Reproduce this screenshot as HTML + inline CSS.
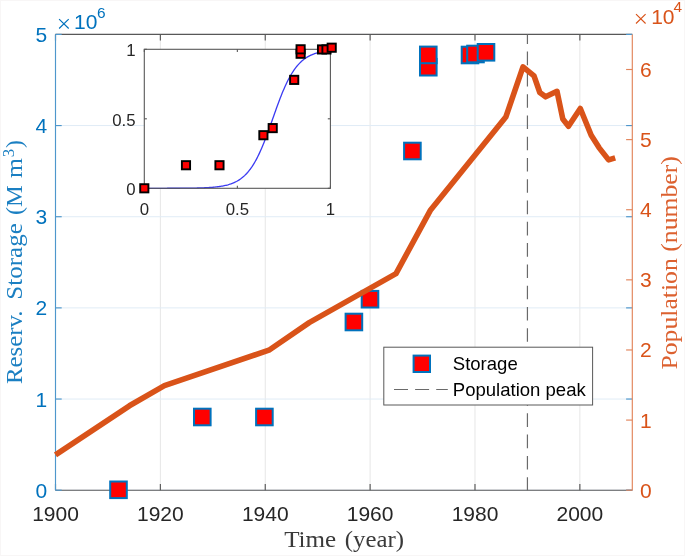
<!DOCTYPE html>
<html><head><meta charset="utf-8"><style>
html,body{margin:0;padding:0;background:#fff;}
body{width:685px;height:556px;overflow:hidden;font-family:"Liberation Sans",sans-serif;}
svg{display:block;will-change:transform;}
</style></head><body>
<svg width="685" height="556" viewBox="0 0 685 556">
<rect x="0" y="0" width="685" height="556" fill="#fff"/>
<line x1="55.50" y1="34.4" x2="55.50" y2="490.2" stroke="#E6E6E6" stroke-width="1"/>
<line x1="160.37" y1="34.4" x2="160.37" y2="490.2" stroke="#E6E6E6" stroke-width="1"/>
<line x1="265.25" y1="34.4" x2="265.25" y2="490.2" stroke="#E6E6E6" stroke-width="1"/>
<line x1="370.12" y1="34.4" x2="370.12" y2="490.2" stroke="#E6E6E6" stroke-width="1"/>
<line x1="474.99" y1="34.4" x2="474.99" y2="490.2" stroke="#E6E6E6" stroke-width="1"/>
<line x1="579.86" y1="34.4" x2="579.86" y2="490.2" stroke="#E6E6E6" stroke-width="1"/>
<line x1="55.5" y1="490.20" x2="632.3" y2="490.20" stroke="#E0ECF6" stroke-width="1"/>
<line x1="55.5" y1="399.04" x2="632.3" y2="399.04" stroke="#E0ECF6" stroke-width="1"/>
<line x1="55.5" y1="307.88" x2="632.3" y2="307.88" stroke="#E0ECF6" stroke-width="1"/>
<line x1="55.5" y1="216.72" x2="632.3" y2="216.72" stroke="#E0ECF6" stroke-width="1"/>
<line x1="55.5" y1="125.56" x2="632.3" y2="125.56" stroke="#E0ECF6" stroke-width="1"/>
<line x1="55.5" y1="34.40" x2="632.3" y2="34.40" stroke="#E0ECF6" stroke-width="1"/>
<line x1="55.5" y1="34.4" x2="632.3" y2="34.4" stroke="#585858" stroke-width="1.15"/>
<line x1="55.5" y1="490.2" x2="632.3" y2="490.2" stroke="#585858" stroke-width="1.15"/>
<line x1="55.50" y1="490.2" x2="55.50" y2="484.0" stroke="#585858" stroke-width="1.15"/>
<line x1="55.50" y1="34.4" x2="55.50" y2="40.6" stroke="#585858" stroke-width="1.15"/>
<line x1="160.37" y1="490.2" x2="160.37" y2="484.0" stroke="#585858" stroke-width="1.15"/>
<line x1="160.37" y1="34.4" x2="160.37" y2="40.6" stroke="#585858" stroke-width="1.15"/>
<line x1="265.25" y1="490.2" x2="265.25" y2="484.0" stroke="#585858" stroke-width="1.15"/>
<line x1="265.25" y1="34.4" x2="265.25" y2="40.6" stroke="#585858" stroke-width="1.15"/>
<line x1="370.12" y1="490.2" x2="370.12" y2="484.0" stroke="#585858" stroke-width="1.15"/>
<line x1="370.12" y1="34.4" x2="370.12" y2="40.6" stroke="#585858" stroke-width="1.15"/>
<line x1="474.99" y1="490.2" x2="474.99" y2="484.0" stroke="#585858" stroke-width="1.15"/>
<line x1="474.99" y1="34.4" x2="474.99" y2="40.6" stroke="#585858" stroke-width="1.15"/>
<line x1="579.86" y1="490.2" x2="579.86" y2="484.0" stroke="#585858" stroke-width="1.15"/>
<line x1="579.86" y1="34.4" x2="579.86" y2="40.6" stroke="#585858" stroke-width="1.15"/>
<line x1="55.5" y1="490.20" x2="61.7" y2="490.20" stroke="#4E97CC" stroke-width="1.15"/>
<line x1="632.3" y1="490.20" x2="626.0999999999999" y2="490.20" stroke="#4E97CC" stroke-width="1.15"/>
<line x1="55.5" y1="399.04" x2="61.7" y2="399.04" stroke="#4E97CC" stroke-width="1.15"/>
<line x1="632.3" y1="399.04" x2="626.0999999999999" y2="399.04" stroke="#4E97CC" stroke-width="1.15"/>
<line x1="55.5" y1="307.88" x2="61.7" y2="307.88" stroke="#4E97CC" stroke-width="1.15"/>
<line x1="632.3" y1="307.88" x2="626.0999999999999" y2="307.88" stroke="#4E97CC" stroke-width="1.15"/>
<line x1="55.5" y1="216.72" x2="61.7" y2="216.72" stroke="#4E97CC" stroke-width="1.15"/>
<line x1="632.3" y1="216.72" x2="626.0999999999999" y2="216.72" stroke="#4E97CC" stroke-width="1.15"/>
<line x1="55.5" y1="125.56" x2="61.7" y2="125.56" stroke="#4E97CC" stroke-width="1.15"/>
<line x1="632.3" y1="125.56" x2="626.0999999999999" y2="125.56" stroke="#4E97CC" stroke-width="1.15"/>
<line x1="55.5" y1="34.40" x2="61.7" y2="34.40" stroke="#4E97CC" stroke-width="1.15"/>
<line x1="632.3" y1="34.40" x2="626.0999999999999" y2="34.40" stroke="#4E97CC" stroke-width="1.15"/>
<line x1="632.3" y1="490.20" x2="626.0999999999999" y2="490.20" stroke="#E2845A" stroke-width="1.15"/>
<line x1="632.3" y1="420.08" x2="626.0999999999999" y2="420.08" stroke="#E2845A" stroke-width="1.15"/>
<line x1="632.3" y1="349.97" x2="626.0999999999999" y2="349.97" stroke="#E2845A" stroke-width="1.15"/>
<line x1="632.3" y1="279.85" x2="626.0999999999999" y2="279.85" stroke="#E2845A" stroke-width="1.15"/>
<line x1="632.3" y1="209.73" x2="626.0999999999999" y2="209.73" stroke="#E2845A" stroke-width="1.15"/>
<line x1="632.3" y1="139.62" x2="626.0999999999999" y2="139.62" stroke="#E2845A" stroke-width="1.15"/>
<line x1="632.3" y1="69.50" x2="626.0999999999999" y2="69.50" stroke="#E2845A" stroke-width="1.15"/>
<line x1="55.5" y1="34.4" x2="55.5" y2="490.2" stroke="#4E97CC" stroke-width="1.15"/>
<line x1="632.3" y1="34.4" x2="632.3" y2="490.2" stroke="#E2845A" stroke-width="1.15"/>
<line x1="527.43" y1="34.4" x2="527.43" y2="490.2" stroke="#6a6a6a" stroke-width="1.2" stroke-dasharray="13.6 7.68" stroke-dashoffset="4.1"/>
<rect x="110.20" y="481.50" width="16.6" height="16.6" fill="#f00" stroke="#0072BD" stroke-width="2"/>
<rect x="194.00" y="408.70" width="16.6" height="16.6" fill="#f00" stroke="#0072BD" stroke-width="2"/>
<rect x="256.10" y="408.70" width="16.6" height="16.6" fill="#f00" stroke="#0072BD" stroke-width="2"/>
<rect x="345.60" y="313.70" width="16.6" height="16.6" fill="#f00" stroke="#0072BD" stroke-width="2"/>
<rect x="361.70" y="290.90" width="16.6" height="16.6" fill="#f00" stroke="#0072BD" stroke-width="2"/>
<rect x="404.10" y="142.70" width="16.6" height="16.6" fill="#f00" stroke="#0072BD" stroke-width="2"/>
<rect x="420.00" y="58.90" width="16.6" height="16.6" fill="#f00" stroke="#0072BD" stroke-width="2"/>
<rect x="420.00" y="46.60" width="16.6" height="16.6" fill="#f00" stroke="#0072BD" stroke-width="2"/>
<rect x="461.70" y="46.70" width="16.6" height="16.6" fill="#f00" stroke="#0072BD" stroke-width="2"/>
<rect x="467.20" y="45.70" width="16.6" height="16.6" fill="#f00" stroke="#0072BD" stroke-width="2"/>
<rect x="477.70" y="44.00" width="16.6" height="16.6" fill="#f00" stroke="#0072BD" stroke-width="2"/>
<polyline points="55.5,454.8 129.4,405.8 164.4,385.6 268.9,350.2 309.2,322.6 396.0,273.6 430.6,209.9 505.8,117.1 523.0,66.8 534.0,75.8 539.8,92.5 545.6,96.8 557.0,91.3 562.8,119.0 568.5,126.2 580.3,108.5 591.2,135.3 599.0,147.6 608.6,159.9 615.2,157.9" fill="none" stroke="#D95319" stroke-width="5.6" stroke-linejoin="round" stroke-linecap="butt"/>
<text x="55.50" y="521.2" font-family="Liberation Sans, sans-serif" font-size="21.0" fill="#262626" text-anchor="middle">1900</text>
<text x="160.37" y="521.2" font-family="Liberation Sans, sans-serif" font-size="21.0" fill="#262626" text-anchor="middle">1920</text>
<text x="265.25" y="521.2" font-family="Liberation Sans, sans-serif" font-size="21.0" fill="#262626" text-anchor="middle">1940</text>
<text x="370.12" y="521.2" font-family="Liberation Sans, sans-serif" font-size="21.0" fill="#262626" text-anchor="middle">1960</text>
<text x="474.99" y="521.2" font-family="Liberation Sans, sans-serif" font-size="21.0" fill="#262626" text-anchor="middle">1980</text>
<text x="579.86" y="521.2" font-family="Liberation Sans, sans-serif" font-size="21.0" fill="#262626" text-anchor="middle">2000</text>
<text x="47.3" y="497.70" font-family="Liberation Sans, sans-serif" font-size="21.0" fill="#0072BD" text-anchor="end">0</text>
<text x="47.3" y="406.54" font-family="Liberation Sans, sans-serif" font-size="21.0" fill="#0072BD" text-anchor="end">1</text>
<text x="47.3" y="315.38" font-family="Liberation Sans, sans-serif" font-size="21.0" fill="#0072BD" text-anchor="end">2</text>
<text x="47.3" y="224.22" font-family="Liberation Sans, sans-serif" font-size="21.0" fill="#0072BD" text-anchor="end">3</text>
<text x="47.3" y="133.06" font-family="Liberation Sans, sans-serif" font-size="21.0" fill="#0072BD" text-anchor="end">4</text>
<text x="47.3" y="41.90" font-family="Liberation Sans, sans-serif" font-size="21.0" fill="#0072BD" text-anchor="end">5</text>
<text x="640.0" y="497.70" font-family="Liberation Sans, sans-serif" font-size="21.0" fill="#D95319">0</text>
<text x="640.0" y="427.58" font-family="Liberation Sans, sans-serif" font-size="21.0" fill="#D95319">1</text>
<text x="640.0" y="357.47" font-family="Liberation Sans, sans-serif" font-size="21.0" fill="#D95319">2</text>
<text x="640.0" y="287.35" font-family="Liberation Sans, sans-serif" font-size="21.0" fill="#D95319">3</text>
<text x="640.0" y="217.23" font-family="Liberation Sans, sans-serif" font-size="21.0" fill="#D95319">4</text>
<text x="640.0" y="147.12" font-family="Liberation Sans, sans-serif" font-size="21.0" fill="#D95319">5</text>
<text x="640.0" y="77.00" font-family="Liberation Sans, sans-serif" font-size="21.0" fill="#D95319">6</text>
<path d="M59.1,19.1 L68.7,28.5 M68.7,19.1 L59.1,28.5" stroke="#0072BD" stroke-width="1.15" fill="none"/>
<text x="74.0" y="28.6" font-family="Liberation Sans, sans-serif" font-size="21.0" fill="#0072BD">10</text>
<text x="96.9" y="17.9" font-family="Liberation Sans, sans-serif" font-size="15.4" fill="#0072BD">6</text>
<path d="M636.0,14.1 L645.6,23.5 M645.6,14.1 L636.0,23.5" stroke="#D95319" stroke-width="1.15" fill="none"/>
<text x="651.2" y="23.6" font-family="Liberation Sans, sans-serif" font-size="21.0" fill="#D95319">10</text>
<text x="673.4" y="12.4" font-family="Liberation Sans, sans-serif" font-size="15.4" fill="#D95319">4</text>
<text y="547.4" font-family="Liberation Serif, serif" font-size="23" fill="#3a3a3a"><tspan x="284.2" textLength="52" lengthAdjust="spacingAndGlyphs">Time</tspan><tspan x="344.8" textLength="59.2" lengthAdjust="spacingAndGlyphs">(year)</tspan></text>
<text transform="translate(21.9,383.5) rotate(-90)" x="0" y="0" font-family="Liberation Serif, serif" font-size="23.5" fill="#1a7fc2"><tspan x="-0.6" textLength="73.5" lengthAdjust="spacingAndGlyphs">Reserv.</tspan><tspan x="83.8" textLength="76.5" lengthAdjust="spacingAndGlyphs">Storage</tspan><tspan x="168.4" textLength="30" lengthAdjust="spacingAndGlyphs">(M</tspan><tspan x="205.6" textLength="20" lengthAdjust="spacingAndGlyphs">m</tspan><tspan font-size="17" dx="0.6" dy="-7.6">3</tspan><tspan dx="0.8" dy="7.6">)</tspan></text>
<text transform="translate(677.2,369.6) rotate(-90)" x="0" y="0" font-family="Liberation Serif, serif" font-size="23.5" fill="#dc6130" textLength="213.5" lengthAdjust="spacingAndGlyphs">Population (number)</text>
<rect x="383.8" y="347.2" width="208.8" height="57.8" fill="#fff" stroke="#585858" stroke-width="1"/>
<rect x="413.6" y="355.6" width="16.4" height="16.4" fill="#f00" stroke="#0072BD" stroke-width="2"/>
<line x1="394" y1="389.5" x2="447.8" y2="389.5" stroke="#6a6a6a" stroke-width="1.2" stroke-dasharray="14 7.1"/>
<text x="452.8" y="370.4" font-family="Liberation Sans, sans-serif" font-size="18.55" fill="#000">Storage</text>
<text x="452.8" y="396.0" font-family="Liberation Sans, sans-serif" font-size="18.55" fill="#000">Population peak</text>
<rect x="144.3" y="49.3" width="186.10" height="139.00" fill="#fff" stroke="none"/>
<polyline points="144.30,188.30 145.23,188.30 146.16,188.30 147.09,188.30 148.02,188.29 148.95,188.29 149.88,188.29 150.81,188.29 151.74,188.29 152.67,188.29 153.61,188.29 154.54,188.29 155.47,188.29 156.40,188.29 157.33,188.29 158.26,188.29 159.19,188.29 160.12,188.29 161.05,188.28 161.98,188.28 162.91,188.28 163.84,188.28 164.77,188.28 165.70,188.28 166.63,188.28 167.56,188.27 168.49,188.27 169.42,188.27 170.35,188.27 171.28,188.26 172.22,188.26 173.15,188.26 174.08,188.26 175.01,188.25 175.94,188.25 176.87,188.24 177.80,188.24 178.73,188.24 179.66,188.23 180.59,188.22 181.52,188.22 182.45,188.21 183.38,188.21 184.31,188.20 185.24,188.19 186.17,188.18 187.10,188.17 188.03,188.16 188.96,188.15 189.89,188.14 190.82,188.13 191.76,188.11 192.69,188.10 193.62,188.08 194.55,188.07 195.48,188.05 196.41,188.03 197.34,188.01 198.27,187.98 199.20,187.96 200.13,187.93 201.06,187.90 201.99,187.87 202.92,187.84 203.85,187.80 204.78,187.76 205.71,187.72 206.64,187.67 207.57,187.62 208.50,187.57 209.44,187.51 210.37,187.45 211.30,187.38 212.23,187.31 213.16,187.24 214.09,187.15 215.02,187.06 215.95,186.97 216.88,186.86 217.81,186.75 218.74,186.63 219.67,186.50 220.60,186.36 221.53,186.21 222.46,186.04 223.39,185.87 224.32,185.68 225.25,185.48 226.18,185.26 227.11,185.02 228.05,184.77 228.98,184.50 229.91,184.21 230.84,183.90 231.77,183.56 232.70,183.20 233.63,182.81 234.56,182.40 235.49,181.95 236.42,181.48 237.35,180.97 238.28,180.42 239.21,179.84 240.14,179.21 241.07,178.55 242.00,177.83 242.93,177.07 243.86,176.26 244.79,175.40 245.72,174.48 246.66,173.51 247.59,172.47 248.52,171.38 249.45,170.21 250.38,168.99 251.31,167.69 252.24,166.32 253.17,164.87 254.10,163.35 255.03,161.76 255.96,160.09 256.89,158.34 257.82,156.52 258.75,154.62 259.68,152.64 260.61,150.59 261.54,148.46 262.47,146.27 263.40,144.01 264.33,141.68 265.26,139.30 266.20,136.86 267.13,134.38 268.06,131.85 268.99,129.28 269.92,126.69 270.85,124.07 271.78,121.44 272.71,118.80 273.64,116.16 274.57,113.53 275.50,110.91 276.43,108.32 277.36,105.75 278.29,103.22 279.22,100.74 280.15,98.30 281.08,95.92 282.01,93.59 282.94,91.33 283.88,89.14 284.81,87.01 285.74,84.96 286.67,82.98 287.60,81.08 288.53,79.26 289.46,77.51 290.39,75.84 291.32,74.25 292.25,72.73 293.18,71.28 294.11,69.91 295.04,68.61 295.97,67.39 296.90,66.22 297.83,65.13 298.76,64.09 299.69,63.12 300.62,62.20 301.55,61.34 302.49,60.53 303.42,59.77 304.35,59.05 305.28,58.39 306.21,57.76 307.14,57.18 308.07,56.63 309.00,56.12 309.93,55.65 310.86,55.20 311.79,54.79 312.72,54.40 313.65,54.04 314.58,53.70 315.51,53.39 316.44,53.10 317.37,52.83 318.30,52.58 319.23,52.34 320.16,52.12 321.09,51.92 322.03,51.73 322.96,51.56 323.89,51.39 324.82,51.24 325.75,51.10 326.68,50.97 327.61,50.85 328.54,50.74 329.47,50.63 330.40,50.54" fill="none" stroke="#3b3bf2" stroke-width="1.3"/>
<rect x="144.3" y="49.3" width="186.10" height="139.00" fill="none" stroke="#585858" stroke-width="1.1"/>
<line x1="144.30" y1="188.3" x2="144.30" y2="185.70000000000002" stroke="#585858" stroke-width="1.1"/>
<line x1="144.30" y1="49.3" x2="144.30" y2="51.9" stroke="#585858" stroke-width="1.1"/>
<line x1="144.3" y1="188.30" x2="146.9" y2="188.30" stroke="#585858" stroke-width="1.1"/>
<line x1="330.4" y1="188.30" x2="327.79999999999995" y2="188.30" stroke="#585858" stroke-width="1.1"/>
<line x1="237.35" y1="188.3" x2="237.35" y2="185.70000000000002" stroke="#585858" stroke-width="1.1"/>
<line x1="237.35" y1="49.3" x2="237.35" y2="51.9" stroke="#585858" stroke-width="1.1"/>
<line x1="144.3" y1="118.80" x2="146.9" y2="118.80" stroke="#585858" stroke-width="1.1"/>
<line x1="330.4" y1="118.80" x2="327.79999999999995" y2="118.80" stroke="#585858" stroke-width="1.1"/>
<line x1="330.40" y1="188.3" x2="330.40" y2="185.70000000000002" stroke="#585858" stroke-width="1.1"/>
<line x1="330.40" y1="49.3" x2="330.40" y2="51.9" stroke="#585858" stroke-width="1.1"/>
<line x1="144.3" y1="49.30" x2="146.9" y2="49.30" stroke="#585858" stroke-width="1.1"/>
<line x1="330.4" y1="49.30" x2="327.79999999999995" y2="49.30" stroke="#585858" stroke-width="1.1"/>
<text x="144.30" y="215.0" font-family="Liberation Sans, sans-serif" font-size="16.8" fill="#262626" text-anchor="middle">0</text>
<text x="135.6" y="195.10" font-family="Liberation Sans, sans-serif" font-size="16.8" fill="#262626" text-anchor="end">0</text>
<text x="237.35" y="215.0" font-family="Liberation Sans, sans-serif" font-size="16.8" fill="#262626" text-anchor="middle">0.5</text>
<text x="135.6" y="125.60" font-family="Liberation Sans, sans-serif" font-size="16.8" fill="#262626" text-anchor="end">0.5</text>
<text x="330.40" y="215.0" font-family="Liberation Sans, sans-serif" font-size="16.8" fill="#262626" text-anchor="middle">1</text>
<text x="135.6" y="56.10" font-family="Liberation Sans, sans-serif" font-size="16.8" fill="#262626" text-anchor="end">1</text>
<rect x="140.20" y="184.20" width="8.2" height="8.2" fill="#f00" stroke="#000" stroke-width="1.9"/>
<rect x="181.89" y="161.13" width="8.2" height="8.2" fill="#f00" stroke="#000" stroke-width="1.9"/>
<rect x="215.38" y="161.13" width="8.2" height="8.2" fill="#f00" stroke="#000" stroke-width="1.9"/>
<rect x="259.30" y="131.10" width="8.2" height="8.2" fill="#f00" stroke="#000" stroke-width="1.9"/>
<rect x="268.61" y="124.01" width="8.2" height="8.2" fill="#f00" stroke="#000" stroke-width="1.9"/>
<rect x="290.10" y="75.78" width="8.2" height="8.2" fill="#f00" stroke="#000" stroke-width="1.9"/>
<rect x="296.52" y="49.65" width="8.2" height="8.2" fill="#f00" stroke="#000" stroke-width="1.9"/>
<rect x="296.52" y="45.20" width="8.2" height="8.2" fill="#f00" stroke="#000" stroke-width="1.9"/>
<rect x="317.93" y="45.34" width="8.2" height="8.2" fill="#f00" stroke="#000" stroke-width="1.9"/>
<rect x="322.39" y="45.34" width="8.2" height="8.2" fill="#f00" stroke="#000" stroke-width="1.9"/>
<rect x="327.60" y="43.60" width="8.2" height="8.2" fill="#f00" stroke="#000" stroke-width="1.9"/>
<rect x="0.5" y="0.5" width="684" height="555" fill="none" stroke="#F8F6F6" stroke-width="1"/>
</svg>
</body></html>
